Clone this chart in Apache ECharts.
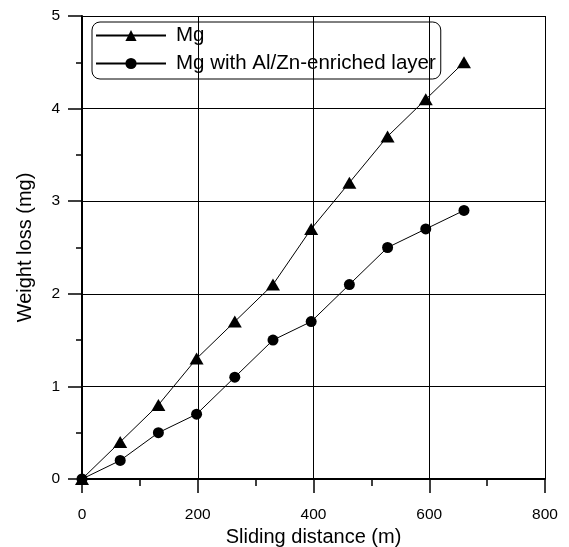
<!DOCTYPE html>
<html>
<head>
<meta charset="utf-8">
<script src="https://cdn.jsdelivr.net/npm/echarts@6/dist/echarts.min.js"></script>
<style>
  html, body { margin: 0; padding: 0; background: #fff; }
  #chart { width: 569px; height: 547px; }
</style>
</head>
<body>
<div id="chart"></div>
<script>
// sliding distance (m)
var distance = [0, 66, 132, 198, 264, 330, 396, 462, 528, 594, 660];
// weight loss (mg)
var mgLoss = [0, 0.4, 0.8, 1.3, 1.7, 2.1, 2.7, 3.2, 3.7, 4.1, 4.5];
var layerLoss = [0, 0.2, 0.5, 0.7, 1.1, 1.5, 1.7, 2.1, 2.5, 2.7, 2.9];
var seriesNames = ['Mg', 'Mg with Al/Zn-enriched layer'];

function pairs(xs, ys) {
  return xs.map(function (x, i) { return [x, ys[i]]; });
}

var font = 'Liberation Sans, Arial, sans-serif';
var chart = echarts.init(document.getElementById('chart'));

var option = {
  backgroundColor: '#fff',
  animation: false,
  grid: { left: 82, right: 24, top: 16, bottom: 68, show: false, containLabel: false, outerBoundsMode: 'none' },
  legend: {
    orient: 'vertical',
    left: 92,
    top: 22,
    padding: [3, 5, 5, 3],
    itemGap: 7,
    itemWidth: 70,
    itemHeight: 14,
    borderColor: '#000',
    borderWidth: 1,
    borderRadius: 8,
    textStyle: { fontFamily: font, fontSize: 20.5, lineHeight: 20, color: '#000', padding: [0, 0, 0, 5] },
    data: seriesNames
  },
  xAxis: {
    type: 'value',
    min: 0, max: 800, interval: 200,
    name: 'Sliding distance (m)',
    nameLocation: 'middle',
    nameGap: 47,
    nameTextStyle: { fontFamily: font, fontSize: 20, color: '#000' },
    axisLine: { onZero: false, lineStyle: { color: '#000', width: 2 } },
    axisTick: { show: true, length: 14, lineStyle: { color: '#000', width: 1.5 } },
    minorTick: { show: true, splitNumber: 2, length: 7, lineStyle: { color: '#000', width: 1.5 } },
    axisLabel: { fontFamily: font, fontSize: 15.5, color: '#000', margin: 28 },
    splitLine: { show: true, lineStyle: { color: '#000', width: 1 } }
  },
  yAxis: {
    type: 'value',
    min: 0, max: 5, interval: 1,
    name: 'Weight loss (mg)',
    nameLocation: 'middle',
    nameGap: 47,
    nameTextStyle: { fontFamily: font, fontSize: 20, color: '#000' },
    axisLine: { onZero: false, lineStyle: { color: '#000', width: 2 } },
    axisTick: { show: true, length: 14, lineStyle: { color: '#000', width: 1.5 } },
    minorTick: { show: true, splitNumber: 2, length: 6, lineStyle: { color: '#000', width: 1.5 } },
    axisLabel: { fontFamily: font, fontSize: 15.5, color: '#000', margin: 22 },
    splitLine: { show: true, lineStyle: { color: '#000', width: 1 } }
  },
  series: [
    {
      name: seriesNames[0],
      type: 'line',
      data: pairs(distance, mgLoss),
      symbol: 'triangle',
      symbolSize: [14, 12],
      lineStyle: { color: '#000', width: 1 },
      itemStyle: { color: '#000' },
      z: 3
    },
    {
      name: seriesNames[1],
      type: 'line',
      data: pairs(distance, layerLoss),
      symbol: 'circle',
      symbolSize: 11,
      lineStyle: { color: '#000', width: 1 },
      itemStyle: { color: '#000' },
      z: 2
    }
  ]
};
chart.setOption(option);
</script>
</body>
</html>
